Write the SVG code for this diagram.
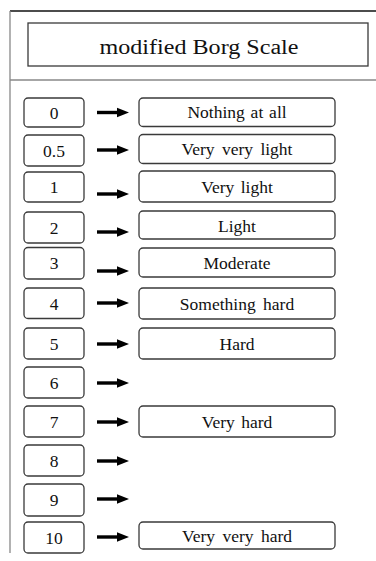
<svg xmlns="http://www.w3.org/2000/svg" xmlns:xlink="http://www.w3.org/1999/xlink" width="376" height="561" viewBox="0 0 376 561">
<style>
.box{fill:#fff;stroke:#3a3a3a;stroke-width:1.3}
.t{font-size:17.5px;fill:#111;text-anchor:middle}
.title{font-size:20px;fill:#111;text-anchor:middle}
.frame{stroke:#888;stroke-width:1.3;fill:none}
</style>
<defs>
<g id="arr"><rect x="97" y="-1.7" width="22" height="3.4" fill="#000"/><polygon points="117,-4.8 129,0 117,4.8" fill="#000"/></g>
</defs>
<rect width="376" height="561" fill="#fff"/>
<g id="frame">
<line x1="10" y1="11" x2="376" y2="11" stroke="#111" stroke-width="1.6"/>
<line x1="10" y1="11" x2="10" y2="553" class="frame"/>
<line x1="10" y1="80" x2="376" y2="80" class="frame"/>
</g>
<g font-family="'Liberation Serif', 'Times New Roman', Times, serif">
<g id="title">
<rect x="28" y="23" width="340" height="43" fill="#fff" stroke="#3a3a3a" stroke-width="1.3"/>
<text x="199" y="54" class="title" textLength="199" lengthAdjust="spacingAndGlyphs">modified Borg Scale</text>
</g>
<g id="connectors">
<use xlink:href="#arr" y="112.5"/>
<use xlink:href="#arr" y="150"/>
<use xlink:href="#arr" y="194"/>
<use xlink:href="#arr" y="232"/>
<use xlink:href="#arr" y="271"/>
<use xlink:href="#arr" y="303"/>
<use xlink:href="#arr" y="344"/>
<use xlink:href="#arr" y="383"/>
<use xlink:href="#arr" y="422"/>
<use xlink:href="#arr" y="461"/>
<use xlink:href="#arr" y="499"/>
<use xlink:href="#arr" y="537"/>
</g>
<g id="n0"><rect class="box" x="24" y="98" width="60" height="29" rx="4"/><text class="t" x="54" y="118.5">0</text></g>
<g id="d0"><rect class="box" x="139" y="98" width="196" height="28.5" rx="4"/><text class="t" x="237" y="118.3" word-spacing="1.5">Nothing at all</text></g>
<g id="n05"><rect class="box" x="24" y="135" width="60" height="31" rx="4"/><text class="t" x="54" y="156.5">0.5</text></g>
<g id="d05"><rect class="box" x="139" y="134.5" width="196" height="29" rx="4"/><text class="t" x="237" y="155" word-spacing="3">Very very light</text></g>
<g id="n1"><rect class="box" x="24" y="172" width="60" height="30" rx="4"/><text class="t" x="54" y="193">1</text></g>
<g id="d1"><rect class="box" x="139" y="171" width="196" height="31" rx="4"/><text class="t" x="237" y="193" word-spacing="2">Very light</text></g>
<g id="n2"><rect class="box" x="24" y="212" width="60" height="31" rx="4"/><text class="t" x="54" y="233.5">2</text></g>
<g id="d2"><rect class="box" x="139" y="211" width="196" height="28" rx="4"/><text class="t" x="237" y="231.5">Light</text></g>
<g id="n3"><rect class="box" x="24" y="247.5" width="60" height="31.5" rx="4"/><text class="t" x="54" y="269">3</text></g>
<g id="d3"><rect class="box" x="139" y="248" width="196" height="29" rx="4"/><text class="t" x="237" y="268.5">Moderate</text></g>
<g id="n4"><rect class="box" x="24" y="288" width="60" height="30.5" rx="4"/><text class="t" x="54" y="309.5">4</text></g>
<g id="d4"><rect class="box" x="139" y="288" width="196" height="31" rx="4"/><text class="t" x="237" y="309.5" word-spacing="3">Something hard</text></g>
<g id="n5"><rect class="box" x="24" y="328" width="60" height="31" rx="4"/><text class="t" x="54" y="349.5">5</text></g>
<g id="d5"><rect class="box" x="139" y="328" width="196" height="31" rx="4"/><text class="t" x="237" y="349.5">Hard</text></g>
<g id="n6"><rect class="box" x="24" y="367" width="60" height="31" rx="4"/><text class="t" x="54" y="388.5">6</text></g>
<g id="n7"><rect class="box" x="24" y="406" width="60" height="31" rx="4"/><text class="t" x="54" y="427.5">7</text></g>
<g id="d7"><rect class="box" x="139" y="406" width="196" height="31" rx="4"/><text class="t" x="237" y="427.5" word-spacing="2">Very hard</text></g>
<g id="n8"><rect class="box" x="24" y="445" width="60" height="31" rx="4"/><text class="t" x="54" y="466.5">8</text></g>
<g id="n9"><rect class="box" x="24" y="484" width="60" height="32" rx="4"/><text class="t" x="54" y="505.5">9</text></g>
<g id="n10"><rect class="box" x="24" y="522" width="60" height="31" rx="4"/><text class="t" x="54" y="543.5">10</text></g>
<g id="d10"><rect class="box" x="139" y="522" width="196" height="27" rx="4"/><text class="t" x="237" y="542" word-spacing="3">Very very hard</text></g>
</g>
</svg>
